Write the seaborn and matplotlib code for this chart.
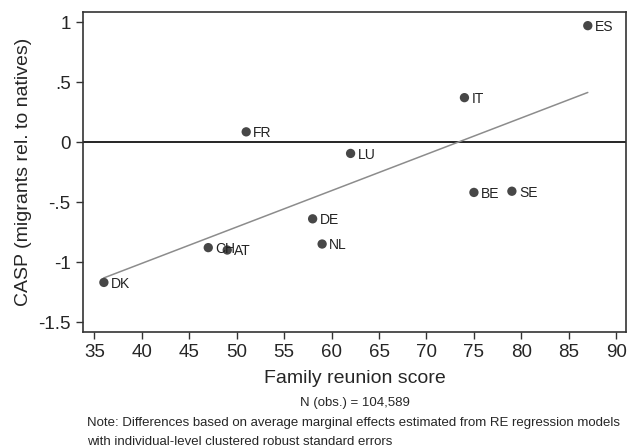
import matplotlib
matplotlib.use("Agg")
import matplotlib.pyplot as plt
import seaborn as sns
import pandas as pd

countries = ["DK", "CH", "AT", "FR", "DE", "NL", "LU", "IT", "BE", "SE", "ES"]
reunion_score = [36, 47, 49, 51, 58, 59, 62, 74, 75, 79, 87]
casp = [-1.17, -0.88, -0.90, 0.085, -0.64, -0.85, -0.095, 0.37, -0.42, -0.41, 0.97]

df = pd.DataFrame({"country": countries, "score": reunion_score, "casp": casp})

sns.set_style("ticks")
plt.rcParams["font.family"] = ["Liberation Sans", "DejaVu Sans"]

fig = plt.figure(figsize=(6.27, 4.48), dpi=100)
ax = fig.add_axes([0.1324, 0.259, 0.8656, 0.714])

ax.axhline(0, color="black", lw=1.2, zorder=1)
sns.regplot(data=df, x="score", y="casp", ci=None, scatter=False, ax=ax,
            line_kws={"color": "#8c8c8c", "lw": 1.1, "zorder": 2})
sns.scatterplot(data=df, x="score", y="casp", ax=ax, color="#474747",
                s=45, edgecolor="none", zorder=3)
for _, r in df.iterrows():
    ax.annotate(r["country"], (r["score"], r["casp"]), xytext=(5, -1),
                textcoords="offset points", va="center", ha="left",
                fontsize=10, color="#222222")

ax.set_xlim(33.8, 91.0)
ax.set_ylim(-1.583, 1.083)
ax.set_xticks(range(35, 91, 5))
ax.set_yticks([1, 0.5, 0, -0.5, -1, -1.5])
ax.set_yticklabels(["1", ".5", "0", "-.5", "-1", "-1.5"])
ax.tick_params(labelsize=13.5, length=5, width=1, color="#333333", pad=4)

for sp in ax.spines.values():
    sp.set_visible(True)
    sp.set_color("#333333")
    sp.set_linewidth(1.2)

ax.set_xlabel("Family reunion score", fontsize=14, labelpad=6)
ax.set_ylabel("CASP (migrants rel. to natives)", fontsize=14, labelpad=4)

fig.text(0.5654, 1 - 403 / 448, "N (obs.) = 104,589", ha="center", va="center",
         fontsize=9.5)
fig.text(87 / 627, 1 - 423 / 448,
         "Note: Differences based on average marginal effects estimated from RE regression models",
         ha="left", va="center", fontsize=9.5)
fig.text(87 / 627, 1 - 442 / 448,
         "with individual-level clustered robust standard errors",
         ha="left", va="center", fontsize=9.5)

fig.savefig("out.png", dpi=100)
